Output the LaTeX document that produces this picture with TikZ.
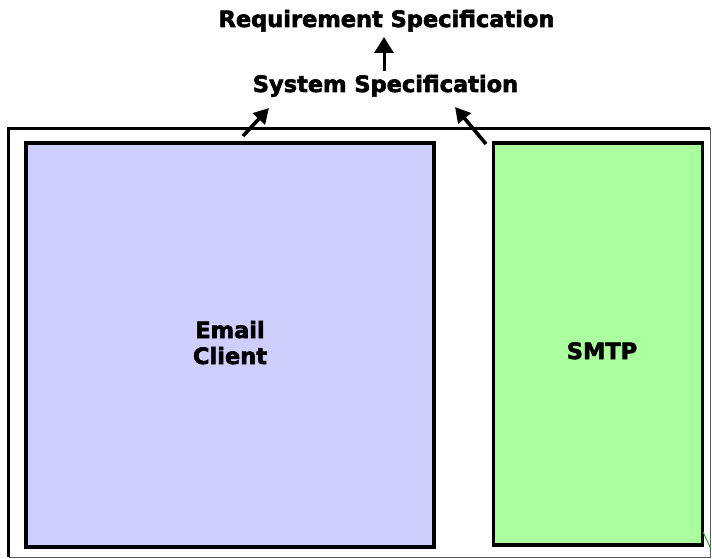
\documentclass[tikz,border=0pt]{standalone}
\usepackage{fontspec}
\setmainfont{DejaVu Sans}[BoldFeatures={FakeBold=2.6}]
\usetikzlibrary{arrows.meta}
\definecolor{clientblue}{RGB}{207,207,255}
\definecolor{smtpgreen}{RGB}{170,255,158}
\definecolor{edgegrey}{RGB}{90,90,90}
\definecolor{linkgreen}{RGB}{40,160,40}
\begin{document}
\begin{tikzpicture}[x=1pt,y=-1pt,
  label text/.style={font=\fontsize{22.5}{26}\selectfont\bfseries, inner sep=0pt, align=center, anchor=base},
  component/.style={draw=black, line width=3.8pt, inner sep=0pt},
  refine/.style={-{Triangle[length=15pt,width=16pt]}, line width=3.6pt}
]
\useasboundingbox (0,0) rectangle (712,559);
% system boundary: heavy top and left edge, light right and bottom edge
\draw[edgegrey, line width=1pt] (710,128.5) -- (710,557) -- (8.5,557);
\draw[black, line width=3.4pt] (8.5,557) -- (8.5,128.5) -- (710,128.5);
% components
\node[component, fill=clientblue, minimum width=408pt, minimum height=404pt, anchor=north west] (client) at (24,141) {};
\node[component, fill=smtpgreen, minimum width=209pt, minimum height=402pt, anchor=north west] (smtp) at (491.5,141) {};
\node[label text] (emaillbl) at (230,338) {Email};
\node[label text] (clientlbl) at (230,364) {Client};
\node[label text] (smtplbl) at (602,359) {SMTP};
% specifications
\node[label text] (req) at (386.5,27) {Requirement Specification};
\node[label text] (sys) at (385.5,92) {System Specification};
% refinement arrows
\coordinate (ltail) at (243,136);
\coordinate (lhead) at (269,108);
\coordinate (rtail) at (486,144);
\coordinate (rhead) at (455,107);
\coordinate (ctail) at (384,71);
\coordinate (chead) at (384,37);
\draw[refine] (ltail) -- (lhead);
\draw[refine] (rtail) -- (rhead);
\draw[refine, line width=3pt, -{Triangle[length=16pt,width=19pt]}] (ctail) -- (chead);
% trailing link leaving the SMTP box
\coordinate (linkstart) at (703,532);
\coordinate (linkend) at (711,549);
\draw[linkgreen, line width=1pt] (linkstart) -- (linkend);
\end{tikzpicture}
\end{document}
